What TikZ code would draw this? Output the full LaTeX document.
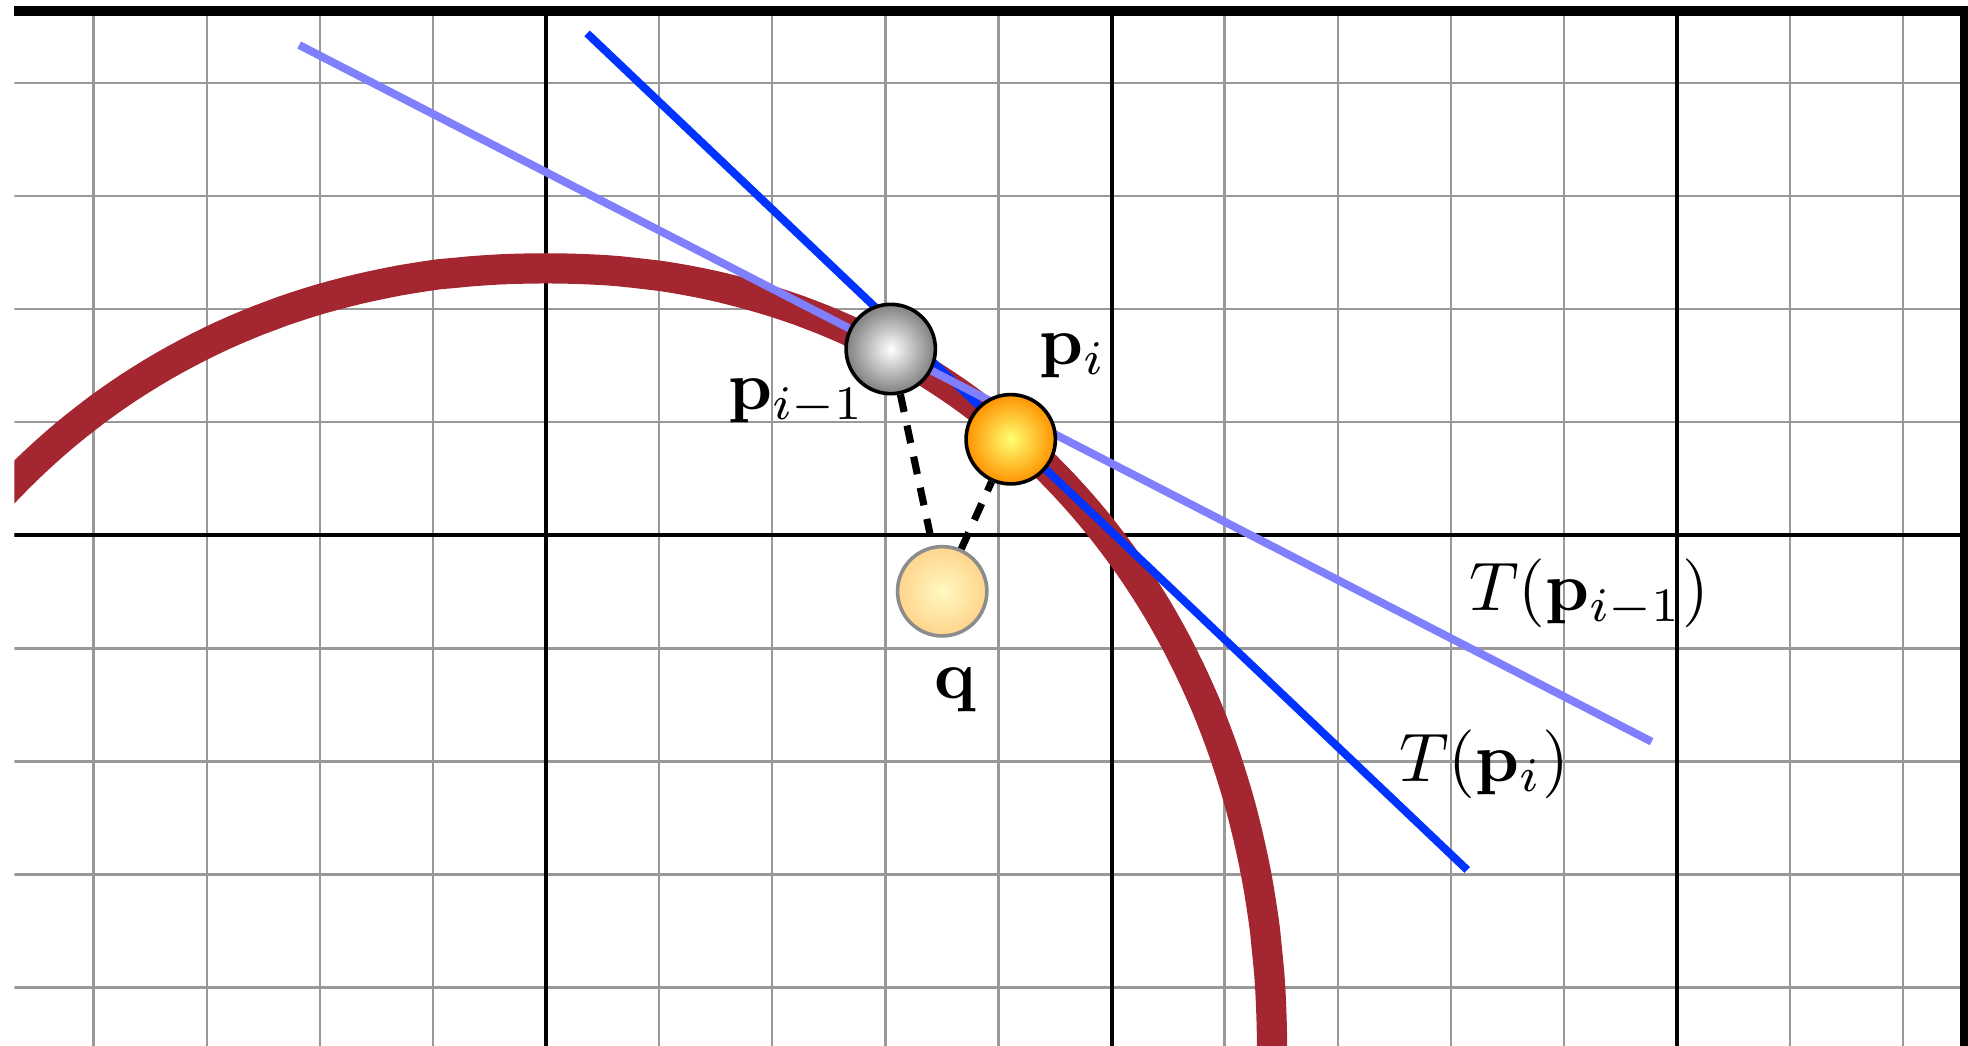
\documentclass[tikz,border=0pt]{standalone}
\usepackage{amsmath}

\definecolor{curvered}{RGB}{163,38,48}
\definecolor{tanblue}{RGB}{0,51,255}
\definecolor{tanlight}{RGB}{128,128,255}
\definecolor{qinner}{RGB}{255,249,192}
\definecolor{qouter}{RGB}{255,212,140}

\begin{document}
\begin{tikzpicture}[
    lbl/.style={font=\normalsize, scale=1.73},
    minorgrid/.style={black!40, line width=0.6pt},
    majorgrid/.style={black, line width=1pt},
    frameline/.style={black, line width=2.5pt},
    curve/.style={curvered, line width=7.6pt},
    tangent/.style={line width=2pt},
    dist/.style={black, line width=1.8pt, dash pattern=on 4.5pt off 3.5pt},
    ball/.style={circle, draw=black, line width=0.9pt, minimum size=0.79cm, inner sep=0pt, shading=radial},
    greyball/.style={ball, inner color=white, outer color=black!50},
    hotball/.style={ball, inner color=yellow!55!white, outer color=orange!85!yellow},
    queryball/.style={ball, draw=black!45, inner color=qinner, outer color=qouter}
]
    \useasboundingbox (-4.828,-4.507) rectangle (12.573,4.733);

    \begin{scope}
        \clip (-4.70,-4.507) rectangle (12.573,4.636);
        \draw[minorgrid] (-4.70,-4.6) grid (12.6,4.7);
        \foreach \x in {0,5,10}
            \draw[majorgrid] (\x,-4.6) -- (\x,4.7);
        \draw[majorgrid] (-4.70,0) -- (12.6,0);

        \draw[curve] plot[domain=0.1:89.9, samples=90]
                ({6.42*abs(cos(\x))^0.952}, {-4.6+6.96*abs(sin(\x))^0.952})
            -- plot[domain=90.1:140, samples=50]
                ({-6.63*abs(cos(\x))^0.952}, {-4.6+6.96*abs(sin(\x))^0.952});
    \end{scope}

    \draw[frameline] (-4.70,4.636) -- (12.7,4.636);
    \draw[frameline] (12.546,4.68) -- (12.546,-4.6);

    \coordinate (tia) at (0.363,4.438);
    \coordinate (tib) at (8.145,-2.959);
    \coordinate (tpa) at (-2.183,4.335);
    \coordinate (tpb) at (9.776,-1.825);
    \draw[tangent, tanblue] (tia) -- (tib);
    \draw[tangent, tanlight] (tpa) -- (tpb);

    \node[greyball] (pim1) at (3.048,1.647) {};
    \node[hotball] (pi) at (4.109,0.849) {};
    \node[queryball] (q) at (3.503,-0.495) {};

    \draw[dist] (pim1) -- (q);
    \draw[dist] (q) -- (pi);

    \node[lbl] (lpim1) at (2.22,1.18) {$\mathbf{p}_{i-1}$};
    \node[lbl] (lpi) at (4.66,1.59) {$\mathbf{p}_i$};
    \node[lbl] (lq) at (3.616,-1.37) {$\mathbf{q}$};
    \node[lbl] (ltp) at (9.225,-0.516) {$T(\mathbf{p}_{i-1})$};
    \node[lbl] (lti) at (8.295,-2.024) {$T(\mathbf{p}_i)$};
\end{tikzpicture}
\end{document}
